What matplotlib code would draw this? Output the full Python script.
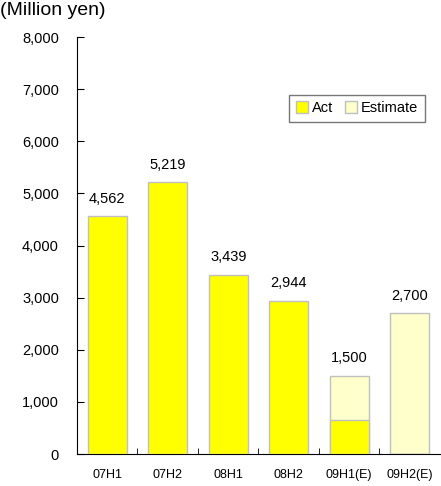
import matplotlib
matplotlib.use("Agg")
import matplotlib.pyplot as plt
import numpy as np
from matplotlib.patches import Patch

plt.rcParams['font.family'] = ['Liberation Sans', 'DejaVu Sans']

categories = ["07H1", "07H2", "08H1", "08H2", "09H1(E)", "09H2(E)"]
actual = [4562, 5219, 3439, 2944, 660, 0]
estimate = [0, 0, 0, 0, 1500, 2700]
labels = [4562, 5219, 3439, 2944, 1500, 2700]
yticks = [0, 1000, 2000, 3000, 4000, 5000, 6000, 7000, 8000]

fig = plt.figure(figsize=(4.41, 4.86), dpi=100)
ax = fig.add_axes([0.1746, 0.0658, 0.823, 0.858])

x = np.arange(len(categories))
w = 0.64
yellow = "#FFFF00"
pale = "#FFFFCC"
edge = "#C0C0C0"

ax.bar(x, estimate, width=w, color=pale, edgecolor=edge, linewidth=1, zorder=2)
ax.bar(x, actual, width=w, color=yellow, edgecolor=edge, linewidth=1, zorder=3)

for xi, v in zip(x, labels):
    ax.text(xi, v + 200, f"{v:,}", ha="center", va="bottom", fontsize=10.5)

ax.set_xlim(-0.5, len(categories) - 0.5)
ax.set_ylim(0, 8000)
ax.set_yticks(yticks)
ax.set_yticklabels([f"{t:,}" for t in yticks], fontsize=10.5)
ax.set_xticks(x)
ax.set_xticklabels(categories, fontsize=9)
ax.set_xticks(np.arange(0.5, len(categories) - 0.5, 1), minor=True)
ax.tick_params(axis="x", which="major", length=0, pad=11)
ax.tick_params(axis="x", which="minor", direction="in", length=4)
ax.tick_params(axis="y", direction="in", length=5, pad=13)
for s in ["top", "right"]:
    ax.spines[s].set_visible(False)

fig.text(0.0, 0.995, "(Million yen)", ha="left", va="top", fontsize=14)

handles = [Patch(facecolor=yellow, edgecolor=edge, label="Act"),
           Patch(facecolor=pale, edgecolor=edge, label="Estimate")]
leg = ax.legend(handles=handles, loc="upper left", bbox_to_anchor=(0.585, 0.862),
                ncol=2, fontsize=10.5, frameon=True, fancybox=False, shadow=False,
                handlelength=0.8, handleheight=0.8, handletextpad=0.3,
                columnspacing=0.8, borderpad=0.45, borderaxespad=0)
leg.get_frame().set_edgecolor("#555555")
leg.get_frame().set_linewidth(1)

fig.savefig("out.png", dpi=100)
